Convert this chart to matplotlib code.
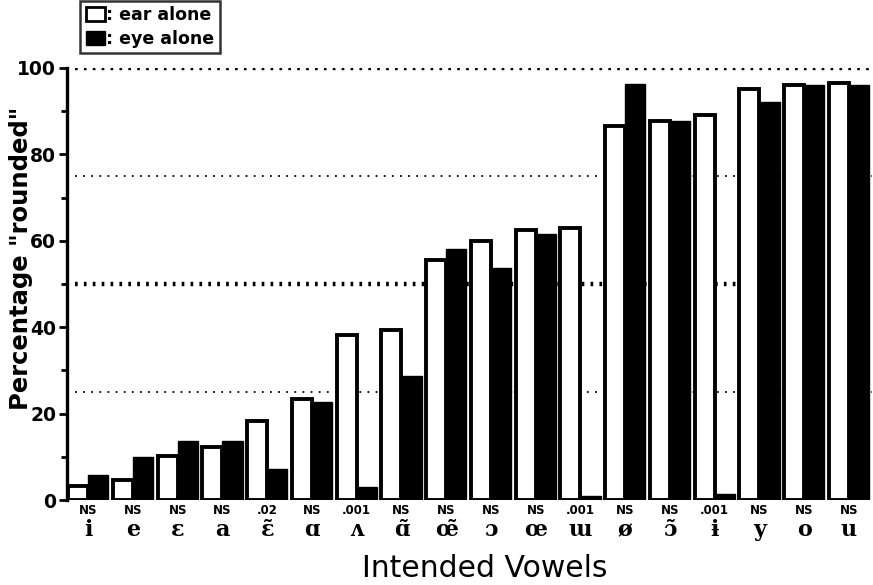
import numpy as np
import matplotlib
matplotlib.use("Agg")
import matplotlib.pyplot as plt
from matplotlib.patches import Patch

# intended vowels, in order of increasing "rounded" responses
vowels = ["i", "e", "ɛ", "a", "ɛ̃", "ɑ", "ʌ", "ɑ̃", "œ̃", "ɔ", "œ", "ɯ", "ø", "ɔ̃", "ɨ", "y", "o", "u"]
signif = ["NS", "NS", "NS", "NS", ".02", "NS", ".001", "NS", "NS", "NS", "NS", ".001", "NS", "NS", ".001", "NS", "NS", "NS"]
ear_alone = [3.3, 4.6, 10.3, 12.2, 18.3, 23.3, 38.2, 39.3, 55.5, 60.0, 62.6, 63.0, 86.5, 87.8, 89.0, 95.0, 96.0, 96.6]
eye_alone = [5.8, 10.1, 13.8, 13.6, 7.3, 22.6, 3.0, 28.7, 58.0, 53.7, 61.5, 1.0, 96.3, 87.8, 1.5, 92.0, 96.0, 96.0]

x = np.arange(len(vowels))
w = 0.45

fig = plt.figure(figsize=(8.73, 5.85), dpi=100)
ax = fig.add_axes([0.077, 0.145, 0.922, 0.739])

# reference levels behind the bars
ax.axhline(100, xmin=0.01, color="black", lw=3.2, ls=(0, (0.6, 1.4)), zorder=1)
ax.axhline(50, xmin=0.01, color="black", lw=3.2, ls=(0, (0.6, 1.4)), zorder=1)
ax.axhline(75, xmin=0.01, color="black", lw=1.3, ls=(0, (1, 3.5)), zorder=1)
ax.axhline(25, xmin=0.01, color="black", lw=1.3, ls=(0, (1, 3.5)), zorder=1)

ax.bar(x - w / 2, ear_alone, w, color="white", edgecolor="black", linewidth=2.8, zorder=2)
ax.bar(x + w / 2, eye_alone, w, color="black", edgecolor="black", linewidth=1, zorder=2)

ax.set_xlim(-0.47, 17.52)
ax.set_ylim(0, 100)

for s in ["top", "right", "bottom"]:
    ax.spines[s].set_visible(False)
ax.spines["left"].set_linewidth(2.4)
ax.set_xticks([])
ax.set_yticks([0, 20, 40, 60, 80, 100])
ax.set_yticks([10, 30, 50, 70, 90], minor=True)
ax.tick_params(axis="y", which="major", length=6, width=2, pad=2, labelsize=13.5)
ax.tick_params(axis="y", which="minor", length=4, width=2)
for t in ax.get_yticklabels():
    t.set_fontweight("bold")

trans = ax.get_xaxis_transform()
for xi, v, s in zip(x, vowels, signif):
    ax.text(xi, -0.01, s, transform=trans, ha="center", va="top",
            fontsize=8.5, fontweight="bold")
    ax.text(xi, -0.083, v, transform=trans, ha="center", va="baseline",
            fontsize=16, fontweight="bold", family="DejaVu Serif")

ax.set_ylabel('Percentage "rounded"', fontsize=17.5, fontweight="bold")
ax.yaxis.set_label_coords(-0.043, 0.56)
fig.text(0.555, 0.014, "Intended Vowels", ha="center", va="baseline", fontsize=21.5)

handles = [Patch(facecolor="white", edgecolor="black", linewidth=2),
           Patch(facecolor="black", edgecolor="black")]
leg = fig.legend(handles, [": ear alone", ": eye alone"], loc="upper left",
                 bbox_to_anchor=(0.091, 1.0), frameon=True, fancybox=False,
                 handlelength=1.1, handleheight=0.9, handletextpad=0.1,
                 borderpad=0.3, labelspacing=0.35, borderaxespad=0.05,
                 prop={"weight": "bold", "size": 12.5})
leg.get_frame().set_edgecolor("black")
leg.get_frame().set_linewidth(1.8)

fig.savefig("out.png", dpi=100)
